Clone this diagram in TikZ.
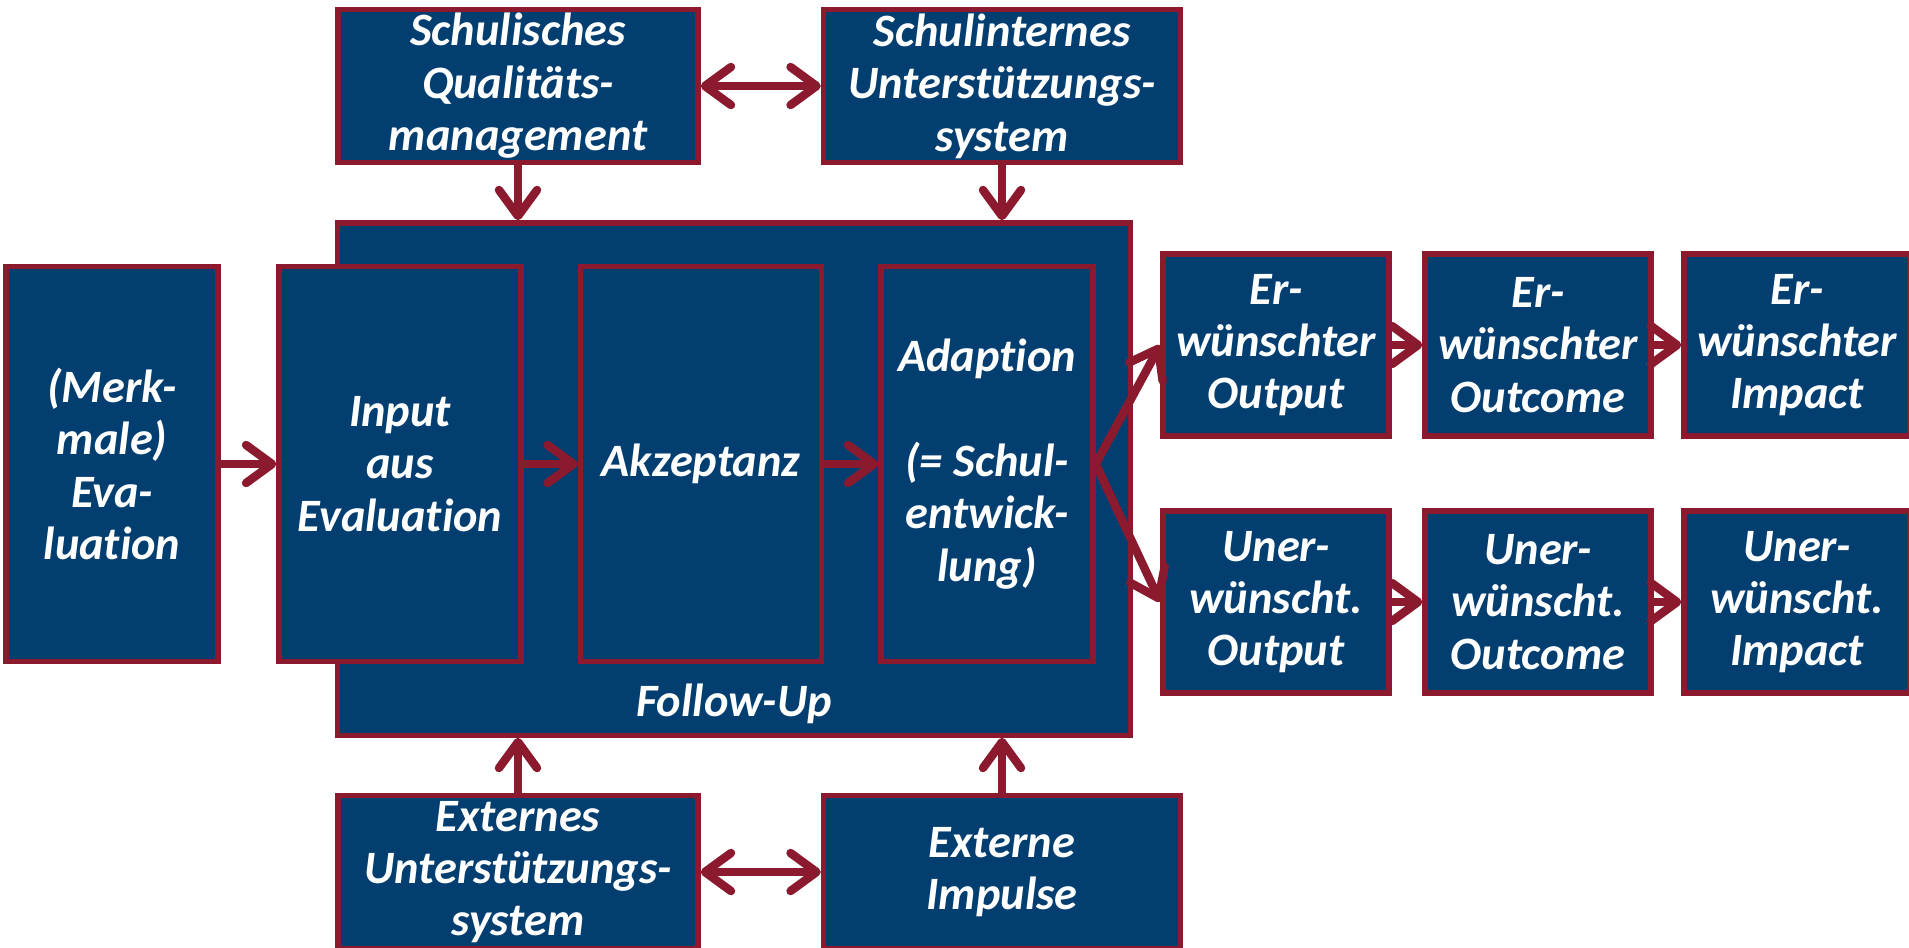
\documentclass[tikz,border=0pt]{standalone}
\usepackage{fontspec}
\setmainfont[Ligatures=CommonOff]{Carlito}
\usetikzlibrary{arrows.meta}
\definecolor{boxblue}{HTML}{023E6F}
\definecolor{boxred}{HTML}{8C1A2F}
\tikzset{
  blk/.style={draw=boxred, fill=boxblue, line width=1.5pt, text=white, align=center,
    inner sep=0pt, font=\fontsize{13.2}{14.9}\selectfont\bfseries\itshape},
  lbl/.style={text=white, inner sep=0pt, font=\fontsize{13.2}{14.9}\selectfont\bfseries\itshape},
  pfeil/.style={draw=boxred, line width=2.4pt, -{Straight Barb[length=2.6mm,width=3.8mm,round]}},
  dpfeil/.style={pfeil, {Straight Barb[length=2.6mm,width=3.8mm,round]}-{Straight Barb[length=2.6mm,width=3.8mm,round]}},
}
\begin{document}
\begin{tikzpicture}[x=0.01cm,y=-0.01cm]
  \useasboundingbox (0,0) rectangle (1909,947);
  \def\hi{3.95cm}

  % Follow-Up
  \node[blk, minimum width=7.92cm, minimum height=5.12cm] (fu) at (734,479) {};
  \node[lbl] (fulab) at (734,704) {Follow-Up};

  \node[blk, minimum width=3.6cm, minimum height=1.53cm] (qm) at (518,86) {Schulisches\\Qualitäts-\\management};
  \node[blk, minimum width=3.57cm, minimum height=1.53cm] (sus) at (1002,86) {Schulinternes\\Unterstützungs-\\system};
  \node[blk, minimum width=3.6cm, minimum height=1.53cm] (ext) at (518,872) {Externes\\Unterstützungs-\\system};
  \node[blk, minimum width=3.57cm, minimum height=1.53cm] (imp) at (1002,872) {Externe\\Impulse};

  \node[blk, minimum width=2.12cm, minimum height=\hi] (merk) at (112,464) {(Merk-\\male)\\Eva-\\luation};
  \node[blk, minimum width=2.42cm, minimum height=\hi] (input) at (400,464) {Input\\aus\\Evaluation};
  \node[blk, minimum width=2.41cm, minimum height=\hi] (akz) at (701,464) {Akzeptanz};
  \node[blk, minimum width=2.12cm, minimum height=\hi] (adapt) at (987,464) {Adaption\\[14.9pt](= Schul-\\entwick-\\lung)};

  \foreach \x/\t [count=\i] in {1276/Output,1538/Outcome,1797/Impact} {
    \node[blk, minimum width=2.26cm, minimum height=1.82cm] (er\i) at (\x,345) {Er-\\wünschter\\\t};
    \node[blk, minimum width=2.26cm, minimum height=1.82cm] (un\i) at (\x,602) {Uner-\\wünscht.\\\t};
  }

  \draw[dpfeil] (qm) -- (sus);
  \draw[dpfeil] (ext) -- (imp);
  \draw[pfeil] (qm.south) -- (qm.south |- fu.north);
  \draw[pfeil] (sus.south) -- (sus.south |- fu.north);
  \draw[pfeil] (ext.north) -- (ext.north |- fu.south);
  \draw[pfeil] (imp.north) -- (imp.north |- fu.south);

  \draw[pfeil] (merk) -- (input);
  \draw[pfeil] (input) -- (akz);
  \draw[pfeil] (akz) -- (adapt);
  \draw[pfeil] (adapt.east) -- (er1.west);
  \draw[pfeil] (adapt.east) -- (un1.west);
  \foreach \a/\b in {1/2,2/3} {
    \draw[pfeil] (er\a) -- (er\b);
    \draw[pfeil] (un\a) -- (un\b);
  }
\end{tikzpicture}
\end{document}
